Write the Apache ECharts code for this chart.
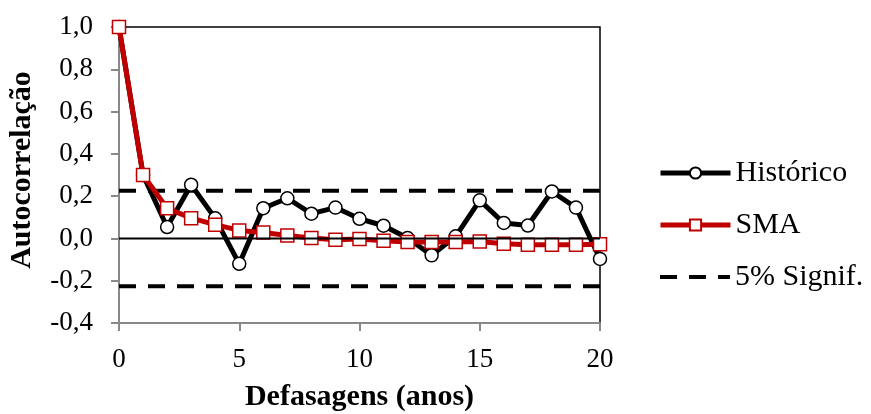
<!DOCTYPE html>
<html>
<head>
<meta charset="utf-8">
<script src="https://cdn.jsdelivr.net/npm/echarts@6/dist/echarts.min.js"></script>
<style>
html,body{margin:0;padding:0;background:#fff;}
#chart{width:871px;height:414px;}
</style>
</head>
<body>
<div id="chart"></div>
<script>
const lags = [0,1,2,3,4,5,6,7,8,9,10,11,12,13,14,15,16,17,18,19,20];
const historico = [1.0, 0.30, 0.054, 0.254, 0.095, -0.12, 0.143, 0.19, 0.117, 0.146, 0.093, 0.06, 0.002, -0.08, 0.01, 0.18, 0.073, 0.061, 0.222, 0.146, -0.097];
const sma = [1.0, 0.30, 0.143, 0.096, 0.065, 0.038, 0.028, 0.014, 0.002, -0.006, -0.003, -0.011, -0.017, -0.017, -0.017, -0.014, -0.025, -0.03, -0.03, -0.03, -0.027];
const signif = 0.226;
const xTicks = [0,5,10,15,20];
const yTicks = [-0.4,-0.2,0.0,0.2,0.4,0.6,0.8,1.0];

const FONT = '"Liberation Serif","Times New Roman",serif';
const pair = arr => lags.map((l,i)=>[l, arr[i]]);
const first = lags[0], last = lags[lags.length-1];

const chart = echarts.init(document.getElementById('chart'), null, {renderer:'canvas'});
const legendBase = {
  orient:'horizontal', left:658, padding:0, itemWidth:70, itemHeight:14, itemGap:5,
  selectedMode:false,
  textStyle:{fontFamily:FONT, fontSize:30, color:'#000', lineHeight:34}
};
chart.setOption({
  animation:false,
  backgroundColor:'#fff',
  grid:{left:119, right:271, top:27, bottom:91, containLabel:false, outerBoundsMode:'none',
        show:true, borderColor:'#000', borderWidth:1.5, backgroundColor:'transparent'},
  legend:[
    Object.assign({}, legendBase, {top:156, data:['Histórico'], lineStyle:{width:5}}),
    Object.assign({}, legendBase, {top:208, data:['SMA'], lineStyle:{width:5}}),
    Object.assign({}, legendBase, {top:260, data:['5% Signif.'],
      lineStyle:{width:4, type:[17,12], cap:'butt'},
      itemStyle:{color:'transparent', borderColor:'transparent', borderWidth:0, opacity:0}})
  ],
  xAxis:{
    type:'value', min:xTicks[0], max:xTicks[xTicks.length-1], interval:5,
    name:'Defasagens (anos)', nameLocation:'middle', nameGap:59,
    nameTextStyle:{fontFamily:FONT, fontSize:30, fontWeight:'bold', color:'#000'},
    axisLine:{show:true, onZero:false, lineStyle:{color:'#888', width:2}},
    axisTick:{show:true, inside:false, length:8, lineStyle:{color:'#888', width:2}},
    axisLabel:{fontFamily:FONT, fontSize:27, color:'#000', margin:23},
    splitLine:{show:false}
  },
  yAxis:{
    type:'value', min:yTicks[0], max:yTicks[yTicks.length-1], interval:0.2,
    name:'Autocorrelação', nameLocation:'middle', nameGap:82, nameRotate:90,
    nameTextStyle:{fontFamily:FONT, fontSize:30, fontWeight:'bold', color:'#000', padding:[0,0,0,10]},
    axisLine:{show:true, onZero:false, lineStyle:{color:'#888', width:2}},
    axisTick:{show:true, inside:false, length:8, lineStyle:{color:'#888', width:2}},
    axisLabel:{fontFamily:FONT, fontSize:27, color:'#000', margin:26,
      formatter:v=>(Math.round(v*10)/10).toFixed(1).replace('.',',')},
    splitLine:{show:false}
  },
  series:[
    {name:'5% Signif.', type:'line', data:[[first,signif],[last,signif]], symbol:'none', z:1,
     lineStyle:{color:'#000', width:4, type:[17,12], cap:'butt'}, itemStyle:{color:'#000'}, silent:true},
    {name:'5% Signif.', type:'line', data:[[first,-signif],[last,-signif]], symbol:'none', z:1,
     lineStyle:{color:'#000', width:4, type:[17,12], cap:'butt'}, itemStyle:{color:'#000'}, silent:true},
    {name:'Histórico', type:'line', data:pair(historico), symbol:'circle', symbolSize:13, z:3,
     lineStyle:{color:'#000', width:5},
     itemStyle:{color:'#fff', borderColor:'#000', borderWidth:1.5}},
    {name:'SMA', type:'line', data:pair(sma), symbol:'rect', symbolSize:13, z:4,
     lineStyle:{color:'#C00000', width:5},
     itemStyle:{color:'#fff', borderColor:'#C00000', borderWidth:1.5}},
    {name:'zero', type:'line', data:[[first,0],[last,0]], symbol:'none', z:5, silent:true,
     lineStyle:{color:'#000', width:2}}
  ]
});
</script>
</body>
</html>
